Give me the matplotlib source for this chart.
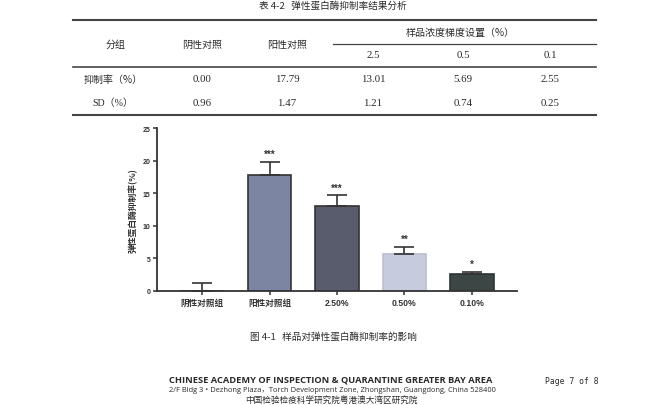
import matplotlib
matplotlib.use("Agg")
import matplotlib.pyplot as plt
from matplotlib.lines import Line2D
import numpy as np

plt.rcParams['font.family'] = ['Noto Sans CJK SC', 'DejaVu Sans']

# ---- data ----
table_title = "表 4-2   弹性蛋白酶抑制率结果分析"
table_groups = ["阴性对照", "阳性对照", "2.5", "0.5", "0.1"]
table_row_labels = ["抑制率（%）", "SD（%）"]
table_rate = ["0.00", "17.79", "13.01", "5.69", "2.55"]
table_sd = ["0.96", "1.47", "1.21", "0.74", "0.25"]

categories = ["阴性对照组", "阳性对照组", "2.50%", "0.50%", "0.10%"]
means = [0.00, 17.79, 13.01, 5.69, 2.55]
errors_up = [1.25, 2.05, 1.65, 1.05, 0.35]
stars = ["", "***", "***", "**", "*"]
bar_colors = ["#ffffff", "#7c85a2", "#585c6d", "#c6cbdd", "#3c4745"]
edge_colors = ["#333333", "#333333", "#333333", "#b9bed2", "#2e3533"]
ylabel = "弹性蛋白酶抑制率(%)"
yticks = [0, 5, 10, 15, 20, 25]

caption = "图 4-1   样品对弹性蛋白酶抑制率的影响"
footer1 = "CHINESE ACADEMY OF INSPECTION & QUARANTINE GREATER BAY AREA"
footer2 = "2/F Bldg 3 \u2022 Dezhong Plaza\uff0cTorch Development Zone, Zhongshan, Guangdong, China 528400"
footer3 = "中国检验检疫科学研究院粤港澳大湾区研究院"
page_text = "Page 7 of 8"

W, H = 650, 406
fig = plt.figure(figsize=(6.5, 4.06), dpi=100)
fig.patch.set_facecolor("white")

def fx(x):
    return x / W

def fy(y):
    return 1 - y / H

def hline(x0, x1, y, lw, color="#444444"):
    fig.add_artist(Line2D([fx(x0), fx(x1)], [fy(y), fy(y)], lw=lw, color=color,
                          transform=fig.transFigure))

txtc = "#2a2a2a"
serif = ['Liberation Serif', 'Noto Sans CJK SC']
cjk = ['Noto Sans CJK SC', 'DejaVu Sans']

# table
fig.text(fx(333), fy(6), table_title, ha="center", va="center", fontsize=6.9,
         family=cjk, color=txtc, weight="medium")
hline(73, 596, 20.5, 1.5)
hline(333, 596, 44.5, 0.9)
hline(73, 596, 67.5, 1.2)
hline(73, 596, 115.5, 1.5)

fig.text(fx(116), fy(45), "分组", ha="center", va="center", fontsize=7.2, family=cjk, color=txtc)
fig.text(fx(202), fy(45), table_groups[0], ha="center", va="center", fontsize=7.2, family=cjk, color=txtc)
fig.text(fx(287), fy(45), table_groups[1], ha="center", va="center", fontsize=7.2, family=cjk, color=txtc)
fig.text(fx(460), fy(33), "样品浓度梯度设置（%）", ha="center", va="center", fontsize=7.2, family=cjk, color=txtc)
col_x = [202, 287, 373, 463, 550]
for x, g in zip(col_x[2:], table_groups[2:]):
    fig.text(fx(x), fy(56), g, ha="center", va="center", fontsize=7.8, family=serif, color=txtc)
fig.text(fx(113), fy(80), table_row_labels[0], ha="center", va="center", fontsize=7.2, family=cjk, color=txtc)
fig.text(fx(113), fy(103), table_row_labels[1], ha="center", va="center", fontsize=7.2,
         family=['Liberation Serif', 'Noto Sans CJK SC'], color=txtc)
for x, v in zip(col_x, table_rate):
    fig.text(fx(x), fy(80), v, ha="center", va="center", fontsize=7.8, family=serif, color=txtc)
for x, v in zip(col_x, table_sd):
    fig.text(fx(x), fy(103), v, ha="center", va="center", fontsize=7.8, family=serif, color=txtc)

# chart
ax = fig.add_axes([fx(157), fy(292), (517 - 157) / W, (292 - 129) / H])
xpos = np.arange(len(categories))
ax.bar(xpos, means, width=0.65, color=bar_colors, edgecolor=edge_colors, linewidth=1.2, zorder=2)
ax.errorbar(xpos, means, yerr=[np.zeros(len(means)), errors_up], fmt="none",
            ecolor="#333333", elinewidth=1.2, capsize=7.5, capthick=1.2, zorder=3)
for x, m, e, s in zip(xpos, means, errors_up, stars):
    if s:
        ax.annotate(s, (x, m + e), xytext=(0, 2), textcoords="offset points",
                    ha="center", va="bottom", fontsize=7, weight="bold", color="#333333",
                    family=['Liberation Sans', 'DejaVu Sans'])
ax.set_xlim(-0.67, 4.67)
ax.set_ylim(0, 25)
ax.set_yticks(yticks)
ax.set_xticks(xpos)
ax.set_xticklabels(categories)
for sp in ["top", "right"]:
    ax.spines[sp].set_visible(False)
for sp in ["left", "bottom"]:
    ax.spines[sp].set_linewidth(1.3)
    ax.spines[sp].set_color("#333333")
ax.tick_params(axis="both", direction="out", length=3, width=1.1, color="#333333")
ax.tick_params(axis="y", labelsize=5, pad=1.5, labelcolor="#333333")
ax.tick_params(axis="x", labelsize=6.2, pad=2, labelcolor="#333333")
for lab in ax.get_yticklabels():
    lab.set_fontweight("bold")
    lab.set_family(['Liberation Sans', 'Noto Sans CJK SC'])
for lab in ax.get_xticklabels():
    lab.set_fontweight("bold")
    lab.set_family(['Liberation Sans', 'Noto Sans CJK SC'])
ax.set_ylabel(ylabel, fontsize=6.3, weight="bold", color="#333333", labelpad=4, family=cjk)

# caption and footer
fig.text(fx(333), fy(337), caption, ha="center", va="center", fontsize=6.9, family=cjk, color=txtc)
fig.text(fx(331), fy(380), footer1, ha="center", va="center", fontsize=6.65, weight="bold",
         family=['Open Sans', 'DejaVu Sans'], color=txtc)
fig.text(fx(332), fy(391), footer2, ha="center", va="center", fontsize=5.4,
         family=['Open Sans', 'Noto Sans CJK SC'], color=txtc)
fig.text(fx(331), fy(400), footer3, ha="center", va="center", fontsize=6.2, family=cjk, color=txtc)
fig.text(fx(572), fy(382), page_text, ha="center", va="center", fontsize=5.8,
         family=['DejaVu Sans Mono', 'DejaVu Sans'], color=txtc)

fig.savefig("out.png", dpi=100, facecolor="white")
